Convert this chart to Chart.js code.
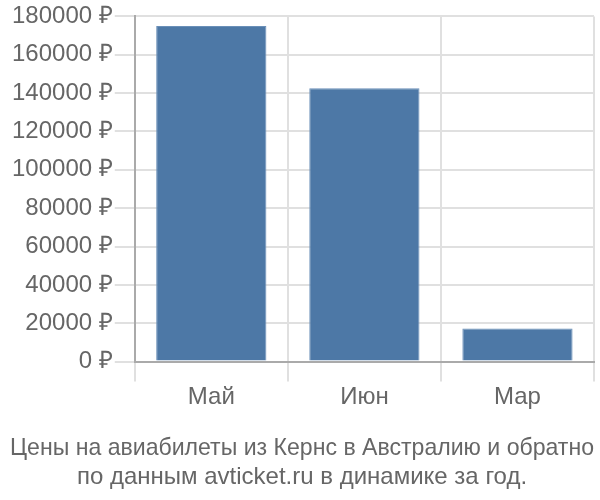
<!DOCTYPE html>
<html>
<head>
<meta charset="utf-8">
<script src="https://cdn.jsdelivr.net/npm/chart.js@4"></script>
<style>
html,body{margin:0;padding:0;background:#fff;}
#wrap{width:600px;height:500px;}
</style>
</head>
<body>
<div id="wrap"><canvas id="c" width="600" height="500"></canvas></div>
<script>
const categories = ["Май", "Июн", "Мар"];
const prices = [175000, 142500, 17200];
const yTicks = [0, 20000, 40000, 60000, 80000, 100000, 120000, 140000, 160000, 180000];
const titleLines = ["Цены на авиабилеты из Кернс в Австралию и обратно", "по данным avticket.ru в динамике за год."];

Chart.defaults.font.family = "'Liberation Sans', Arial, sans-serif";
new Chart(document.getElementById('c'), {
  type: 'bar',
  data: {
    labels: categories,
    datasets: [{
      data: prices,
      backgroundColor: '#4d78a6',
      borderColor: '#6a8fb8',
      borderWidth: 1,
      barPercentage: 0.72,
      categoryPercentage: 1
    }]
  },
  options: {
    responsive: false,
    animation: false,
    layout: { padding: { top: -2, right: 6, left: 10, bottom: 0 } },
    plugins: {
      legend: { display: false },
      tooltip: { enabled: false },
      title: {
        display: true,
        position: 'bottom',
        text: titleLines,
        color: '#666',
        font: { size: 24, weight: 'normal' },
        padding: { top: 22, bottom: 8 },
        lineHeight: 1.2
      }
    },
    scales: {
      x: {
        grid: { color: '#e0e0e0', lineWidth: 2, tickLength: 20, offset: true },
        border: { color: '#aaa', width: 2 },
        ticks: { color: '#666', font: { size: 24 }, padding: 1 }
      },
      y: {
        min: 0, max: 180000,
        afterBuildTicks: (axis) => { axis.ticks = yTicks.map(v => ({ value: v })); },
        grid: { color: '#e0e0e0', lineWidth: 2, tickLength: 20 },
        border: { color: '#aaa', width: 2 },
        ticks: { color: '#666', font: { size: 24 }, padding: 2, autoSkip: false, callback: (v) => v + ' ₽' }
      }
    }
  }
});
</script>
</body>
</html>
